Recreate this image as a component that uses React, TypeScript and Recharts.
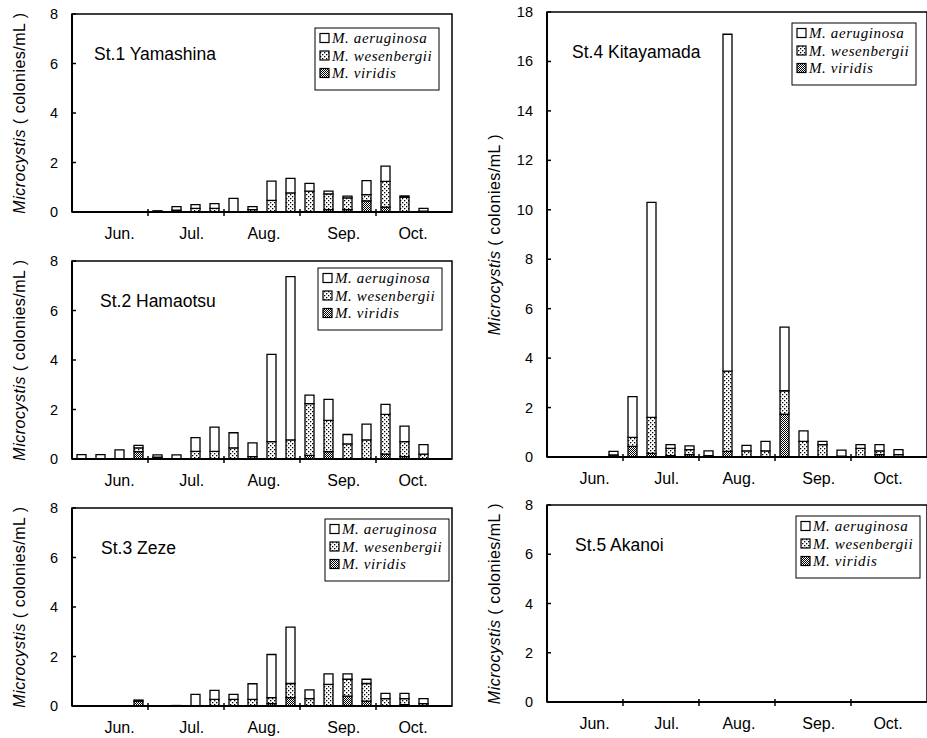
import React from "react";
import { BarChart, Bar, XAxis, YAxis, ReferenceArea } from "recharts";

// ---- data ----
const CATEGORIES = ["1", "2", "3", "4", "5", "6", "7", "8", "9", "10", "11", "12", "13", "14", "15", "16", "17", "18", "19", "20"];
const MONTHS = ["Jun.", "Jul.", "Aug.", "Sep.", "Oct."];
const MONTH_CENTERS = [2.5, 6.3, 10.1, 14.3, 17.95];
const MONTH_BOUNDARIES = [4, 8, 12, 16];
const SPECIES = ["M. aeruginosa", "M. wesenbergii", "M. viridis"];
const Y_TICKS_8 = [0, 2, 4, 6, 8];
const Y_TICKS_18 = [0, 2, 4, 6, 8, 10, 12, 14, 16, 18];

const ST1_AER = [0, 0, 0, 0, 0.05, 0.15, 0.15, 0.19, 0.55, 0.12, 0.78, 0.59, 0.32, 0.11, 0.07, 0.57, 0.61, 0.05, 0.12, 0];
const ST1_WES = [0, 0, 0, 0, 0, 0.07, 0.15, 0.15, 0, 0.1, 0.47, 0.77, 0.84, 0.63, 0.47, 0.25, 1.04, 0.6, 0.03, 0];
const ST1_VIR = [0, 0, 0, 0, 0, 0, 0, 0, 0, 0, 0, 0, 0, 0.1, 0.1, 0.45, 0.2, 0, 0, 0];

const ST2_AER = [0.18, 0.18, 0.37, 0.1, 0.1, 0.17, 0.55, 0.98, 0.61, 0.55, 3.53, 6.6, 0.34, 0.85, 0.38, 0.64, 0.41, 0.63, 0.38, 0];
const ST2_WES = [0, 0, 0, 0.15, 0.07, 0, 0.31, 0.31, 0.45, 0.1, 0.7, 0.77, 2.09, 1.26, 0.61, 0.77, 1.6, 0.6, 0.2, 0];
const ST2_VIR = [0, 0, 0, 0.3, 0, 0, 0, 0, 0, 0, 0, 0, 0.15, 0.3, 0, 0, 0.2, 0.1, 0, 0];

const ST3_AER = [0, 0, 0, 0.04, 0, 0.02, 0.47, 0.36, 0.2, 0.63, 1.74, 2.28, 0.35, 0.43, 0.22, 0.17, 0.21, 0.21, 0.2, 0];
const ST3_WES = [0, 0, 0, 0, 0, 0, 0, 0.27, 0.27, 0.27, 0.24, 0.57, 0.3, 0.87, 0.68, 0.71, 0.3, 0.25, 0.1, 0];
const ST3_VIR = [0, 0, 0, 0.2, 0, 0, 0, 0, 0, 0, 0.1, 0.34, 0, 0, 0.4, 0.2, 0, 0.05, 0, 0];

const ST4_AER = [0, 0, 0, 0.15, 1.65, 8.7, 0.15, 0.15, 0.2, 13.63, 0.22, 0.38, 2.57, 0.43, 0.13, 0.25, 0.15, 0.25, 0.2, 0];
const ST4_WES = [0, 0, 0, 0.08, 0.36, 1.45, 0.3, 0.2, 0.05, 3.24, 0.25, 0.25, 0.95, 0.63, 0.5, 0.03, 0.35, 0.15, 0.1, 0];
const ST4_VIR = [0, 0, 0, 0, 0.43, 0.15, 0.05, 0.1, 0, 0.23, 0, 0, 1.73, 0, 0, 0, 0, 0.1, 0, 0];

const ST5_AER = [0, 0, 0, 0, 0, 0, 0, 0, 0, 0, 0, 0, 0, 0, 0, 0, 0, 0, 0, 0];
const ST5_WES = [0, 0, 0, 0, 0, 0, 0, 0, 0, 0, 0, 0, 0, 0, 0, 0, 0, 0, 0, 0];
const ST5_VIR = [0, 0, 0, 0, 0, 0, 0, 0, 0, 0, 0, 0, 0, 0, 0, 0, 0, 0, 0, 0];

const build = (aer: number[], wes: number[], vir: number[]) =>
  CATEGORIES.map((c, i) => ({ cat: c, aer: aer[i], wes: wes[i], vir: vir[i] }));

const SANS = "'Liberation Sans', Arial, sans-serif";
const SERIF = "'Liberation Serif', 'Times New Roman', serif";

const XTick = (props: any) => {
  const { x, y, payload, slotW } = props;
  const i = payload.index;
  const els: any[] = [];
  if (MONTH_BOUNDARIES.includes(i)) {
    const bx = x - slotW / 2;
    els.push(<line key="t" x1={bx} x2={bx} y1={y - 3} y2={y + 4} stroke="#000" strokeWidth={1.5} />);
  }
  MONTH_CENTERS.forEach((c, m) => {
    if (Math.floor(c) === i) {
      els.push(
        <text key={"m" + m} x={x + (c - i - 0.5) * slotW} y={y + 27} textAnchor="middle" fontSize={16} fontFamily={SANS} fill="#000">
          {MONTHS[m]}
        </text>
      );
    }
  });
  return <g>{els}</g>;
};

const YTick = (props: any) => {
  const { x, y, payload } = props;
  return (
    <g>
      <line x1={x} x2={x + 4} y1={y} y2={y} stroke="#000" strokeWidth={1.5} />
      <text x={x - 14} y={y + 5} textAnchor="end" fontSize={14.5} fontFamily={SANS} fill="#000">
        {payload.value}
      </text>
    </g>
  );
};

const YLabel = (props: any) => {
  const vb = props.viewBox;
  const cx = vb.x + vb.width - 53;
  const cy = vb.y + vb.height / 2;
  return (
    <text
      transform={`translate(${cx},${cy}) rotate(-90)`}
      textAnchor="middle"
      dominantBaseline="central"
      fontSize={16}
      letterSpacing={0.5}
      fontFamily={SANS}
      fill="#000"
    >
      <tspan fontStyle="italic">Microcystis</tspan>
      <tspan> ( colonies/mL )</tspan>
    </text>
  );
};

type PanelProps = {
  data: any[];
  title: string;
  left: number;
  top: number;
  width: number;
  height: number;
  marginTop: number;
  marginRight: number;
  yAxisWidth: number;
  yMax: number;
  yTicks: number[];
  titleDx: number;
  legendTop: number;
  legendRight: number;
};

const SWATCH_FILLS = ["#fff", "url(#pWes)", "url(#pVir)"];

const Panel = (p: PanelProps) => {
  const xAxisH = 38;
  const plotLeft = p.yAxisWidth;
  const plotRight = p.width - p.marginRight;
  const plotW = plotRight - plotLeft;
  const slotW = plotW / CATEGORIES.length;
  const plotTop = p.marginTop;
  const legW = 124;
  const legH = 62;
  const legX = plotRight - p.legendRight - legW;
  const legY = plotTop + p.legendTop;
  return (
    <div style={{ position: "absolute", left: p.left, top: p.top, width: p.width, height: p.height }}>
      <BarChart
        width={p.width}
        height={p.height}
        data={p.data}
        margin={{ top: p.marginTop, right: p.marginRight, bottom: 0, left: 0 }}
        barSize={9}
      >
        <XAxis
          dataKey="cat"
          height={xAxisH}
          interval={0}
          tickSize={0}
          tickMargin={0}
          tickLine={false}
          axisLine={{ stroke: "#000", strokeWidth: 2 }}
          tick={<XTick slotW={slotW} />}
        />
        <YAxis
          type="number"
          width={p.yAxisWidth}
          domain={[0, p.yMax]}
          ticks={p.yTicks}
          interval={0}
          tickSize={0}
          tickMargin={0}
          tickLine={false}
          axisLine={{ stroke: "#000", strokeWidth: 2 }}
          tick={<YTick />}
          label={{ content: (lp: any) => <YLabel {...lp} /> }}
        />
        <ReferenceArea y1={0} y2={p.yMax} fill="none" stroke="#000" strokeWidth={1.5} ifOverflow="visible" />
        <Bar dataKey="vir" stackId="s" fill="url(#pVir)" stroke="#000" strokeWidth={1.3} isAnimationActive={false} />
        <Bar dataKey="wes" stackId="s" fill="url(#pWes)" stroke="#000" strokeWidth={1.3} isAnimationActive={false} />
        <Bar dataKey="aer" stackId="s" fill="#fff" stroke="#000" strokeWidth={1.3} isAnimationActive={false} />
      </BarChart>
      <svg
        width={p.width}
        height={p.height}
        style={{ position: "absolute", left: 0, top: 0, pointerEvents: "none" }}
      >
        <text x={plotLeft + p.titleDx} y={plotTop + 46} fontSize={17.5} fontFamily={SANS} fill="#000">
          {p.title}
        </text>
        <rect x={legX} y={legY} width={legW} height={legH} fill="#fff" stroke="#000" strokeWidth={1} />
        {SPECIES.map((s, k) => {
          const by = legY + 15 + k * 17.5;
          return (
            <g key={s}>
              <rect x={legX + 5} y={by - 9.5} width={9} height={9} fill={SWATCH_FILLS[k]} stroke="#000" strokeWidth={1.2} />
              <text x={legX + 17} y={by} fontSize={15} fontStyle="italic" letterSpacing={0.6} fontFamily={SERIF} fill="#000">
                {s}
              </text>
            </g>
          );
        })}
      </svg>
    </div>
  );
};

export default function App() {
  return (
    <div style={{ position: "absolute", left: 0, top: 0, width: 927, height: 738, overflow: "hidden", background: "#fff" }}>
      <svg width={0} height={0} style={{ position: "absolute" }}>
        <defs>
          <pattern id="pWes" width="4" height="4" patternUnits="userSpaceOnUse">
            <rect width="4" height="4" fill="#fff" />
            <rect x="0" y="0" width="1.3" height="1.3" fill="#000" />
            <rect x="2" y="2" width="1.3" height="1.3" fill="#000" />
          </pattern>
          <pattern id="pVir" width="2" height="2" patternUnits="userSpaceOnUse">
            <rect width="2" height="2" fill="#fff" />
            <rect x="0" y="0" width="1" height="1" fill="#000" />
            <rect x="1" y="1" width="1" height="1" fill="#000" />
          </pattern>
        </defs>
      </svg>
      <Panel data={build(ST1_AER, ST1_WES, ST1_VIR)} title="St.1 Yamashina" left={0} top={0} width={460} height={250}
        marginTop={14} marginRight={8} yAxisWidth={72} yMax={8} yTicks={Y_TICKS_8} titleDx={22} legendTop={14} legendRight={13} />
      <Panel data={build(ST2_AER, ST2_WES, ST2_VIR)} title="St.2 Hamaotsu" left={0} top={247} width={460} height={250}
        marginTop={14} marginRight={8} yAxisWidth={72} yMax={8} yTicks={Y_TICKS_8} titleDx={28} legendTop={7} legendRight={10} />
      <Panel data={build(ST3_AER, ST3_WES, ST3_VIR)} title="St.3 Zeze" left={0} top={494} width={460} height={250}
        marginTop={14} marginRight={8} yAxisWidth={72} yMax={8} yTicks={Y_TICKS_8} titleDx={29} legendTop={11} legendRight={3} />
      <Panel data={build(ST4_AER, ST4_WES, ST4_VIR)} title="St.4 Kitayamada" left={460} top={0} width={470} height={495}
        marginTop={12} marginRight={3} yAxisWidth={87} yMax={18} yTicks={Y_TICKS_18} titleDx={25} legendTop={11} legendRight={11} />
      <Panel data={build(ST5_AER, ST5_WES, ST5_VIR)} title="St.5 Akanoi" left={460} top={493} width={470} height={247}
        marginTop={12} marginRight={3} yAxisWidth={87} yMax={8} yTicks={Y_TICKS_8} titleDx={28} legendTop={11} legendRight={7} />
    </div>
  );
}
